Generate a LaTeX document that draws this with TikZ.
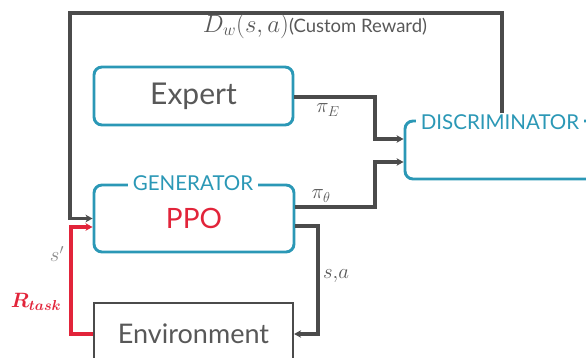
\documentclass[tikz,border=0pt]{standalone}
\usepackage{fontspec}
\usepackage{bm}
\setmainfont{Lato}
\usetikzlibrary{arrows.meta,calc}
\definecolor{teal}{RGB}{43,152,182}
\definecolor{ink}{RGB}{75,75,75}
\definecolor{txt}{RGB}{88,88,88}
\definecolor{hot}{RGB}{226,36,58}
\tikzset{
  box/.style={draw=teal,line width=2.9pt,rounded corners=8pt,fill=white},
  plainbox/.style={draw=ink,line width=2.2pt,fill=white},
  title/.style={fill=white,text=teal,inner xsep=5pt,inner ysep=1pt,font=\fontsize{20.5}{21}\selectfont},
  wire/.style={draw=ink,line width=3.1pt},
  tip/.style={-{Stealth[length=7pt,width=7.5pt,inset=2pt]}},
  lab/.style={text=txt,inner sep=0pt}
}
\begin{document}
\begin{tikzpicture}[x=1pt,y=-1pt]
\useasboundingbox (0,0) rectangle (586,358);
\clip (0,0) rectangle (586,358);

% boxes
\node[box,minimum width=199pt,minimum height=58pt,text=txt,
      font=\fontsize{30}{30}\selectfont] (expert) at (193.5,96) {Expert};
\node[box,minimum width=200pt,minimum height=67pt,text=hot,
      font=\fontsize{28}{28}\selectfont] (gen) at (194,218.5) {\raisebox{-5pt}{PPO}};
\node[plainbox,minimum width=199pt,minimum height=62pt,text=txt,
      font=\fontsize{27}{27}\selectfont] (env) at (193.5,334) {\raisebox{-1pt}{Environment}};
\node[box,minimum width=200pt,minimum height=58pt] (disc) at (505,150) {};

% titles sitting on the box borders
\node[title] (gentitle) at (193,183.5) {GENERATOR};
\node[title] (disctitle) at (500,122) {DISCRIMINATOR};

% junction points
\coordinate (dtop) at (502,113);
\coordinate (tl) at (70,13);
\coordinate (xe) at (375,97);
\coordinate (xg) at (375,207);
\coordinate (xs) at (318,226);
\coordinate (rc) at (71,227);

% reward feedback loop
\draw[wire,tip] (dtop) |- (tl) |- (gen.west);
% policy outputs into the discriminator
\draw[wire,tip] (expert.east |- xe) -- (xe) |- ($(disc.west)+(0,-11)$);
\draw[wire,tip] (gen.east |- xg) -- (xg) |- ($(disc.west)+(0,12)$);
% state/action into the environment
\draw[wire,tip] (gen.east |- xs) -- (xs) |- (env.east);
% next state and task reward back to the generator
\draw[draw=hot,line width=3.1pt,tip] (env.west) -| (rc) -- (gen.west |- rc);

% labels
\node[lab] (toplab) at (315,26) {\fontsize{24}{24}\selectfont$D_w(s,a)$\fontsize{18.5}{19}\selectfont(Custom Reward)};
\node[lab] (pie) at (328,110) {\fontsize{21}{21}\selectfont$\pi_E$};
\node[lab] (pit) at (321,196) {\fontsize{21}{21}\selectfont$\pi_\theta$};
\node[lab] (sa) at (336,276) {\fontsize{21}{21}\selectfont$s{,}a$};
\node[lab,text=txt!70] (sp) at (57,254) {\fontsize{21}{21}\selectfont$s'$};
\node[lab,text=hot] (rt) at (36,302) {\fontsize{21}{21}\selectfont$\bm{R_{task}}$};
\end{tikzpicture}
\end{document}
